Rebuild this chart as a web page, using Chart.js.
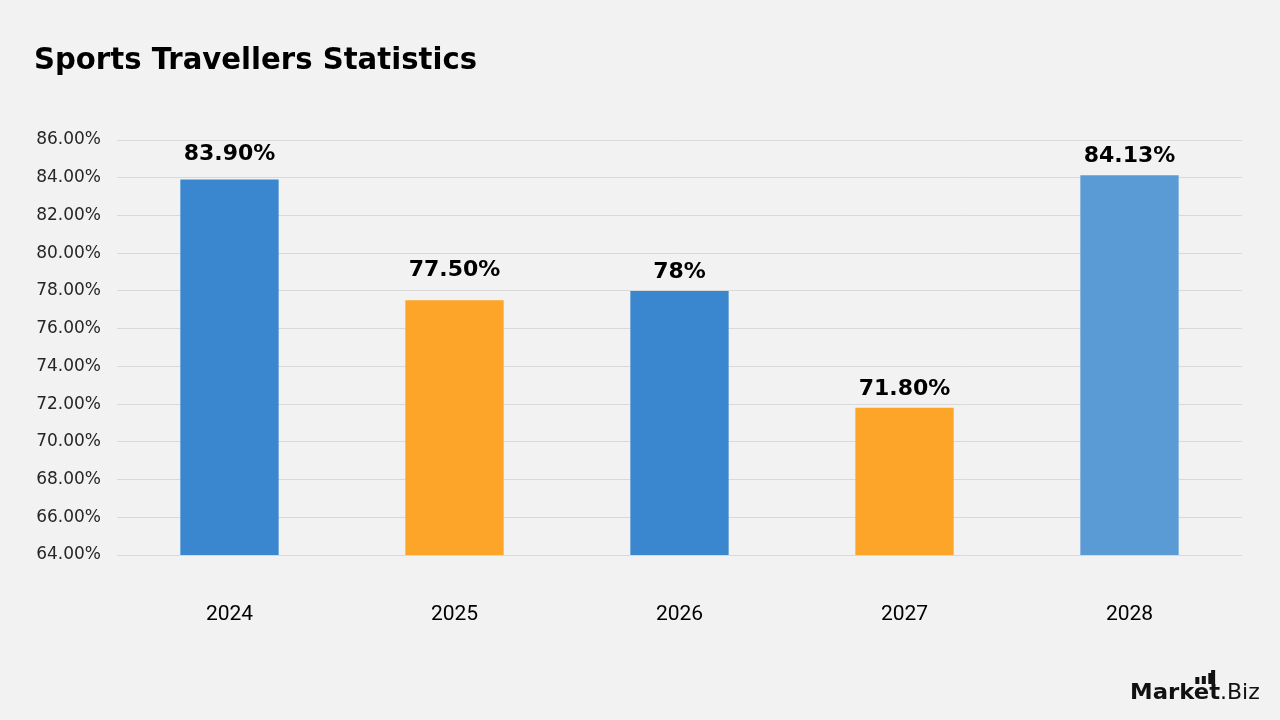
<!DOCTYPE html>
<html>
<head>
<meta charset="utf-8">
<script src="https://cdn.jsdelivr.net/npm/chart.js@4.4.0/dist/chart.umd.min.js"></script>
<style>
  html, body { margin: 0; padding: 0; background: #F2F2F2; }
  #wrap { width: 1280px; height: 720px; position: relative; }
</style>
</head>
<body>
<div id="wrap"><canvas id="c" width="1280" height="720"></canvas></div>
<script>
const chartTitle = "Sports Travellers Statistics";
const categories = ["2024", "2025", "2026", "2027", "2028"];
const values = [83.90, 77.50, 78.00, 71.80, 84.13];
const valueLabels = ["83.90%", "77.50%", "78%", "71.80%", "84.13%"];
const barColors = ["#3A87CF", "#FDA529", "#3A87CF", "#FDA529", "#5B9BD5"];
const yMin = 64, yMax = 86, yStep = 2;
// style: gap (px) between bar top and label baseline
const labelGap = [20, 24, 13, 13, 13];

const bgPlugin = {
  id: 'bg',
  beforeDraw(chart) {
    const ctx = chart.ctx;
    ctx.save();
    ctx.fillStyle = '#F2F2F2';
    ctx.fillRect(0, 0, chart.width, chart.height);
    ctx.restore();
  }
};

function drawFitted(ctx, text, font, x, y, targetW) {
  ctx.save();
  ctx.font = font;
  const w = ctx.measureText(text).width;
  ctx.translate(x, y);
  ctx.scale(targetW / w, 1);
  ctx.fillText(text, 0, 0);
  ctx.restore();
}

const decorPlugin = {
  id: 'decor',
  afterDraw(chart) {
    const ctx = chart.ctx;
    ctx.save();
    // title
    ctx.fillStyle = '#000';
    ctx.textBaseline = 'alphabetic';
    ctx.textAlign = 'left';
    drawFitted(ctx, chartTitle, 'bold 31px "DejaVu Sans"', 34, 69, 443);

    // value labels
    const meta = chart.getDatasetMeta(0);
    ctx.font = 'bold 22px "DejaVu Sans"';
    ctx.textAlign = 'center';
    meta.data.forEach((bar, i) => {
      ctx.fillText(valueLabels[i], bar.x, bar.y - labelGap[i]);
    });

    // logo
    ctx.textAlign = 'left';
    ctx.fillStyle = '#111';
    const mk = 'Market';
    ctx.font = 'bold 22px "DejaVu Sans"';
    const full = ctx.measureText(mk).width;
    const sx = 90 / full;
    ctx.save();
    ctx.translate(1130, 699);
    ctx.scale(sx, 1);
    ctx.fillText(mk, 0, 0);
    const wMark = ctx.measureText('Mark').width * sx;
    const wMarke = ctx.measureText('Marke').width * sx;
    ctx.restore();
    ctx.font = '22px "DejaVu Sans"';
    ctx.fillText('.Biz', 1130 + 90, 699);
    // icon bars above "e" and the "t" stem
    const x0 = 1130 + wMark + 1;
    const x3 = 1130 + wMarke + 2;
    const xs = [x0, x0 + 6.5, x0 + 13, x3];
    const tops = [677, 676, 673, 670];
    xs.forEach((x, i) => {
      ctx.fillRect(x, tops[i], 4, 684 - tops[i]);
    });
    ctx.restore();
  }
};

new Chart(document.getElementById('c'), {
  type: 'bar',
  data: {
    labels: categories,
    datasets: [{
      data: values,
      backgroundColor: barColors,
      borderWidth: 0,
      barPercentage: 0.437,
      categoryPercentage: 1.0
    }]
  },
  options: {
    responsive: false,
    animation: false,
    devicePixelRatio: 1,
    layout: { padding: { left: 20, right: 38, top: 140, bottom: 65 } },
    plugins: {
      legend: { display: false },
      title: { display: false },
      tooltip: { enabled: false }
    },
    scales: {
      x: {
        grid: { display: false, drawTicks: false },
        border: { display: false },
        ticks: {
          color: '#000',
          font: { family: 'Roboto', size: 21 },
          padding: 47
        },
        afterFit(scale) { scale.height = 100; }
      },
      y: {
        min: yMin,
        max: yMax,
        grid: { color: '#D9D9D9', lineWidth: 1, drawTicks: false },
        border: { display: false },
        ticks: {
          stepSize: yStep,
          color: '#262626',
          font: { family: 'DejaVu Sans', size: 17 },
          padding: 16,
          callback: (v) => v.toFixed(2) + '%'
        },
        afterFit(scale) { scale.width = 97; }
      }
    }
  },
  plugins: [bgPlugin, decorPlugin]
});
</script>
</body>
</html>
